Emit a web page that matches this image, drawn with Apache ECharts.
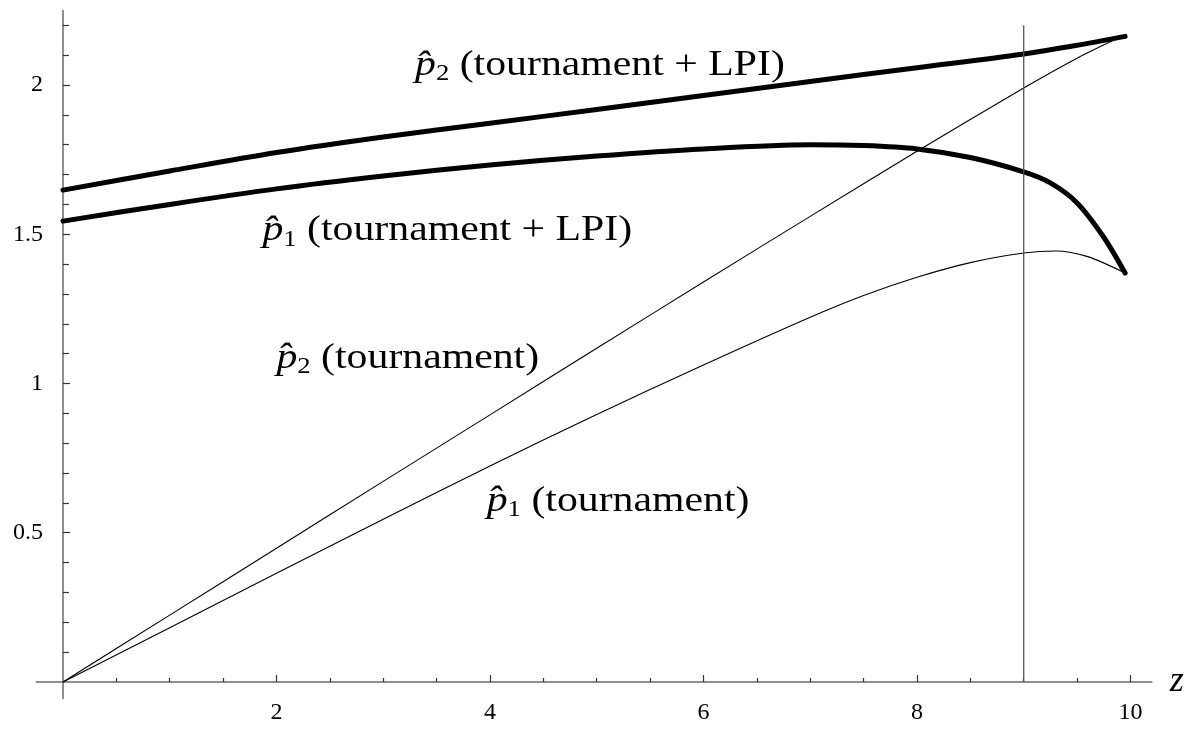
<!DOCTYPE html>
<html>
<head>
<meta charset="utf-8">
<script src="https://cdn.jsdelivr.net/npm/echarts@6/dist/echarts.min.js"></script>
<style>
  html, body { margin: 0; padding: 0; background: #fff; }
  #chart { width: 1196px; height: 730px; }
</style>
</head>
<body>
<div id="chart"></div>
<script>
// ---- data ----
const zP2T = [0, 1, 2, 3, 4, 5, 6, 7, 8, 9, 9.5, 9.93];
const p2Tournament = [0, 0.224, 0.448, 0.672, 0.895, 1.118, 1.34, 1.56, 1.778, 1.99, 2.09, 2.165];

const zP1T = [0, 1, 2, 3, 4, 5, 6, 7, 7.5, 8, 8.5, 9, 9.3, 9.6, 9.95];
const p1Tournament = [0, 0.182, 0.364, 0.545, 0.724, 0.896, 1.062, 1.222, 1.295, 1.356, 1.405, 1.437, 1.444, 1.425, 1.37];

const zP2L = [0, 1, 2, 3, 4, 5, 6, 7, 8, 9, 9.5, 9.95];
const p2LPI = [1.648, 1.712, 1.774, 1.826, 1.872, 1.918, 1.965, 2.012, 2.058, 2.104, 2.133, 2.163];

const zP1L = [0, 1, 2, 3, 4, 5, 6, 7, 7.5, 8, 8.5, 9, 9.25, 9.5, 9.75, 9.95];
const p1LPI = [1.544, 1.60, 1.652, 1.695, 1.732, 1.762, 1.786, 1.800, 1.797, 1.786, 1.757, 1.709, 1.672, 1.605, 1.49, 1.37];

const markerZ = [9, 9];
const markerY = [0, 2.2];

const xMajorTicks = [2, 4, 6, 8, 10];
const xMinorTicks = [0.5, 1, 1.5, 2.5, 3, 3.5, 4.5, 5, 5.5, 6.5, 7, 7.5, 8.5, 9, 9.5];
const yMajorTicks = [0.5, 1, 1.5, 2];
const yMinorTicks = [0.1, 0.2, 0.3, 0.4, 0.6, 0.7, 0.8, 0.9, 1.1, 1.2, 1.3, 1.4, 1.6, 1.7, 1.8, 1.9, 2.1, 2.2];

const curveLabels = [
  { sub: '2', rest: ' (tournament + LPI)', z: 5.03, y: 2.064 },
  { sub: '1', rest: ' (tournament + LPI)', z: 3.60, y: 1.511 },
  { sub: '2', rest: ' (tournament)', z: 3.23, y: 1.085 },
  { sub: '1', rest: ' (tournament)', z: 5.20, y: 0.606 }
];

function pairs(xs, ys) { return xs.map((x, i) => [x, ys[i]]); }

const FONT = "'Liberation Serif', 'DejaVu Serif', serif";
const AXIS_COLOR = '#6a6a6a';

const chart = echarts.init(document.getElementById('chart'), null, { renderer: 'canvas' });

const xMin = -0.25, xMax = 10.2, yMin = -0.055, yMax = 2.25;

const option = {
  animation: false,
  backgroundColor: '#fff',
  grid: { left: 36.3, right: 44.2, top: 10.4, bottom: 31.6, containLabel: false, outerBoundsMode: 'none' },
  xAxis: [
    {
      type: 'value', min: xMin, max: xMax, position: 'bottom',
      axisLine: { show: true, onZero: true, onZeroAxisIndex: 0, lineStyle: { color: AXIS_COLOR, width: 1.5 } },
      axisTick: { show: true, inside: true, length: 7, customValues: xMajorTicks, lineStyle: { color: '#333', width: 1.2 } },
      axisLabel: { show: true, customValues: xMajorTicks, margin: 2.6, color: '#000', fontSize: 24, fontFamily: FONT },
      splitLine: { show: false },
      name: 'z', nameLocation: 'end', nameGap: 18,
      nameTextStyle: { color: '#000', fontSize: 36, fontStyle: 'italic', fontFamily: FONT }
    },
    {
      type: 'value', min: xMin, max: xMax, position: 'bottom',
      axisLine: { show: false, onZero: true, onZeroAxisIndex: 0 },
      axisTick: { show: true, inside: true, length: 4, customValues: xMinorTicks, lineStyle: { color: '#333', width: 1.2 } },
      axisLabel: { show: false },
      splitLine: { show: false }
    }
  ],
  yAxis: [
    {
      type: 'value', min: yMin, max: yMax, position: 'left',
      axisLine: { show: true, onZero: true, onZeroAxisIndex: 0, lineStyle: { color: AXIS_COLOR, width: 1.5 } },
      axisTick: { show: true, inside: true, length: 7, customValues: yMajorTicks, lineStyle: { color: '#333', width: 1.2 } },
      axisLabel: { show: true, customValues: yMajorTicks, margin: -6.7, color: '#000', fontSize: 24, fontFamily: FONT },
      splitLine: { show: false }
    },
    {
      type: 'value', min: yMin, max: yMax, position: 'left',
      axisLine: { show: false, onZero: true, onZeroAxisIndex: 0 },
      axisTick: { show: true, inside: true, length: 6, customValues: yMinorTicks, lineStyle: { color: '#333', width: 1.2 } },
      axisLabel: { show: false },
      splitLine: { show: false }
    }
  ],
  series: [
    {
      name: 'p2 tournament', type: 'line', data: pairs(zP2T, p2Tournament), showSymbol: false, smooth: 0.3,
      lineStyle: { color: '#000', width: 1.1 }
    },
    {
      name: 'p1 tournament', type: 'line', data: pairs(zP1T, p1Tournament), showSymbol: false, smooth: 0.3,
      lineStyle: { color: '#000', width: 1.1 }
    },
    {
      name: 'p2 LPI', type: 'line', data: pairs(zP2L, p2LPI), showSymbol: false, smooth: 0.3,
      lineStyle: { color: '#000', width: 5, cap: 'round', join: 'round' }
    },
    {
      name: 'p1 LPI', type: 'line', data: pairs(zP1L, p1LPI), showSymbol: false, smooth: 0.3,
      lineStyle: { color: '#000', width: 5, cap: 'round', join: 'round' }
    },
    {
      name: 'z marker', type: 'line', data: pairs(markerZ, markerY), showSymbol: false,
      lineStyle: { color: '#555', width: 1.3 }
    }
  ]
};

chart.setOption(option);

const graphics = curveLabels.map(l => {
  const pt = chart.convertToPixel({ xAxisIndex: 0, yAxisIndex: 0 }, [l.z, l.y]);
  return {
    type: 'text',
    x: pt[0], y: pt[1],
    scaleX: 1.16, scaleY: 1,
    silent: true,
    style: {
      text: '{p|p\u0302}{s|' + l.sub + '}{t|' + l.rest + '}',
      align: 'center', verticalAlign: 'middle',
      fill: '#000',
      rich: {
        p: { fontSize: 36, fontStyle: 'italic', fontFamily: FONT, lineHeight: 40, fill: '#000' },
        s: { fontSize: 23, fontFamily: FONT, lineHeight: 30, verticalAlign: 'bottom', fill: '#000' },
        t: { fontSize: 36, fontFamily: FONT, lineHeight: 40, fill: '#000' }
      }
    }
  };
});
chart.setOption({ graphic: graphics });
</script>
</body>
</html>
